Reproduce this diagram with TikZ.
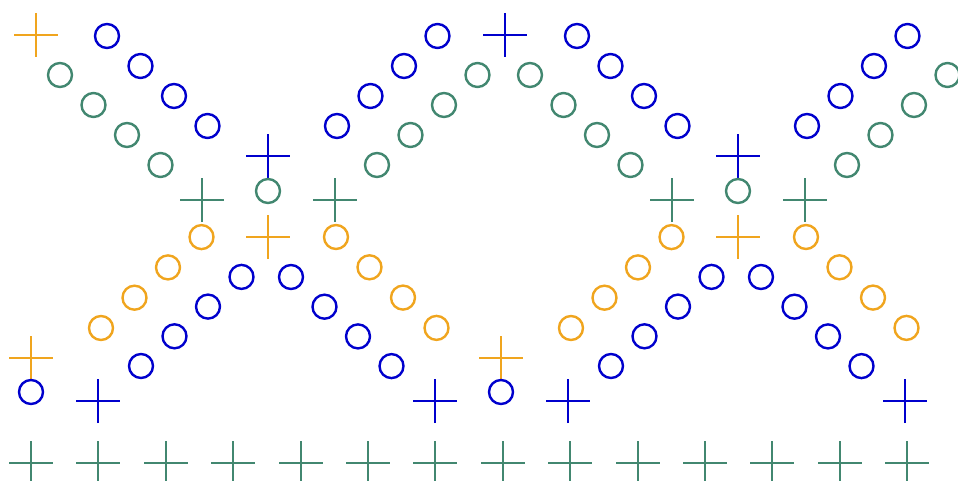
\documentclass[tikz,border=0pt]{standalone}
\definecolor{mkblue}{RGB}{0,0,205}
\definecolor{mkorange}{RGB}{240,165,30}
\definecolor{mkteal}{RGB}{66,135,112}
\tikzset{
  ring/.pic={\draw (0,0) circle (12pt);},
  cross/.pic={\draw (-22pt,0) -- (22pt,0) (0,-22pt) -- (0,22pt);},
}

\begin{document}
\begin{tikzpicture}[x=1pt, y=-1pt, line width=2.4pt]
  \useasboundingbox (0,0) rectangle (958,481);

  % top corner markers
  \pic[mkorange] at (36,35) {cross};
  \pic[mkblue]   at (505,35) {cross};

  \foreach \p in {0,470} {
    % upper diagonals
    \foreach \i in {0,...,3} {
      \pic[mkblue] at ({107+33.5*\i+\p},{36+30*\i}) {ring};
      \pic[mkteal] at ({60+33.5*\i+\p},{75+30*\i}) {ring};
      \pic[mkblue] at ({337+33.5*\i+\p},{126-30*\i}) {ring};
      \pic[mkteal] at ({377+33.5*\i+\p},{165-30*\i}) {ring};
    }
    % lower diagonals
    \foreach \i in {0,...,3} {
      \pic[mkorange] at ({101+33.5*\i+\p},{328-30.3*\i}) {ring};
      \pic[mkorange] at ({336+33.5*\i+\p},{237+30.3*\i}) {ring};
      \pic[mkblue]   at ({141+33.5*\i+\p},{366-29.7*\i}) {ring};
      \pic[mkblue]   at ({291+33.5*\i+\p},{277+29.7*\i}) {ring};
    }
    % middle column
    \pic[mkblue]   at (268+\p,156) {cross};
    \pic[mkteal]   at (268+\p,191) {ring};
    \pic[mkorange] at (268+\p,237) {cross};
    \pic[mkteal]   at (202+\p,200) {cross};
    \pic[mkteal]   at (335+\p,200) {cross};
    % lower markers
    \pic[mkorange] at (31+\p,358) {cross};
    \pic[mkblue]   at (31+\p,392) {ring};
    \pic[mkblue]   at (98+\p,401) {cross};
    \pic[mkblue]   at (435+\p,401) {cross};
  }

  \foreach \i in {0,...,13}
    \pic[mkteal] at ({round(31+67.4*\i)},463) {cross};
\end{tikzpicture}
\end{document}
